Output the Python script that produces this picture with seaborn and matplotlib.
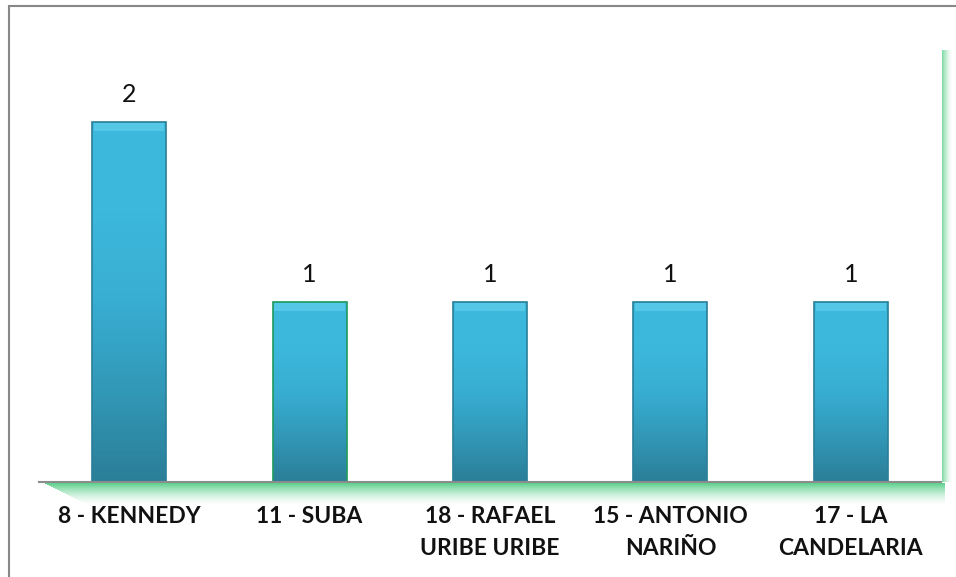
import numpy as np
import pandas as pd
import matplotlib
matplotlib.use("Agg")
import matplotlib.pyplot as plt
import seaborn as sns
from matplotlib.patches import Rectangle
from matplotlib.colors import LinearSegmentedColormap

localidades = ["8 - KENNEDY", "11 - SUBA", "18 - RAFAEL\nURIBE URIBE",
               "15 - ANTONIO\nNARIÑO", "17 - LA\nCANDELARIA"]
casos = [2, 1, 1, 1, 1]

df = pd.DataFrame({"localidad": localidades, "casos": casos})

sns.set_theme(style="white")
plt.rcParams["font.family"] = ["Lato", "DejaVu Sans"]

fig = plt.figure(figsize=(9.56, 5.77), dpi=100)
ax = fig.add_axes([39 / 956, 1 - 482 / 577, 902 / 956, (482 - 45) / 577])

sns.barplot(data=df, x="localidad", y="casos", color="#3bb4d8",
            width=0.41, ax=ax, saturation=1)

ax.set_ylim(0, 437 / 180)
ax.set_xlim(-0.5, len(casos) - 0.5)

# gradient fill for bars
grad = LinearSegmentedColormap.from_list(
    "bar", ["#2b7f98", "#3298b7", "#38aed2", "#3cb8dc", "#3cb8dc"])
for i, p in enumerate(ax.patches):
    x0, w, h = p.get_x(), p.get_width(), p.get_height()
    img = ax.imshow(np.linspace(0, 1, 100).reshape(-1, 1), cmap=grad,
                    extent=[x0, x0 + w, 0, h], origin="lower",
                    aspect="auto", zorder=3)
    img.set_clip_path(p)
    p.set_edgecolor("#1f9a5e" if i == 1 else "#2a7f99")
    p.set_linewidth(1.2)
    p.set_zorder(4)
    p.set_facecolor("none")
    # light bevel at the top
    ax.add_patch(Rectangle((x0 + 0.01, h - 0.05), w - 0.02, 0.045,
                           facecolor="#62cfec", alpha=0.7, lw=0, zorder=3.5))
    ax.text(x0 + w / 2, h + 0.09, str(casos[i]), ha="center", va="bottom",
            fontsize=18, color="#111111")

ax.set_aspect("auto")
ax.set_xlabel("")
ax.set_ylabel("")
ax.set_yticks([])
ax.tick_params(axis="x", length=0, pad=17)
for lab in ax.get_xticklabels():
    lab.set_fontweight("bold")
    lab.set_fontsize(16.5)
    lab.set_color("#111111")
    lab.set_linespacing(1.65)

for s in ["top", "right", "left"]:
    ax.spines[s].set_visible(False)
ax.spines["bottom"].set_color("#8c8c8c")
ax.spines["bottom"].set_linewidth(1.5)
ax.spines["bottom"].set_zorder(5)

# soft green glow below axis and at right edge
n = 22
for k in range(n):
    a = 0.9 * (1 - k / n) ** 1.6
    fig.patches.append(Rectangle(((45 + k * 2) / 956, 1 - (484 + k) / 577),
                                 (900 - k * 2) / 956, 1 / 577,
                                 transform=fig.transFigure, facecolor="#4fcb82",
                                 alpha=a, lw=0))
for k in range(10):
    a = 0.7 * (1 - k / 10) ** 1.6
    fig.patches.append(Rectangle(((942 + k) / 956, 1 - 482 / 577),
                                 1 / 956, 432 / 577,
                                 transform=fig.transFigure, facecolor="#4fcb82",
                                 alpha=a, lw=0))

# chart border
fig.patches.append(Rectangle((9 / 956, -0.1), 1.2, 1 - 6 / 577 + 0.1,
                             transform=fig.transFigure, fill=False,
                             edgecolor="#888888", lw=1.5))

fig.savefig("out.png", dpi=100)
